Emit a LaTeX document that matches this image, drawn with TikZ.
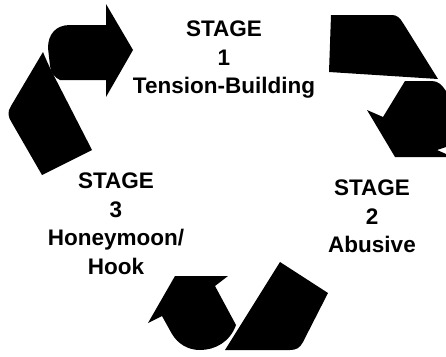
\documentclass[tikz,border=0pt]{standalone}
\usepackage{fontspec}
\setmainfont{Liberation Sans}
\tikzset{
  piece/.style={fill=black},
  stagetext/.style={align=center,anchor=north,inner sep=0pt,font=\fontsize{22.5}{28.5}\selectfont\bfseries}
}
\begin{document}
\begin{tikzpicture}[x=1pt,y=-1pt]
            \useasboundingbox (0,0) rectangle (446,356);
            \fill[piece] (43,52) -- (11,106) .. controls (7,112) and (8,117) .. (12,123) -- (42,175) -- (92,150) -- (52,72) .. controls (48,64) and (45,57) .. cycle;
            \fill[piece] (60,80) -- (106,80) -- (106,97) -- (133,50) -- (106,4) -- (106,25) -- (70,25) .. controls (56,25) and (48,34) .. (48,48) -- (50,66) .. controls (51,73) and (54,77) .. cycle;
            \fill[piece] (331,15) -- (392,15) .. controls (397,15) and (400,18) .. (403,23) -- (438,79) -- (329,72) -- cycle;
            \fill[piece] (395,157) -- (367,110) -- (383,117) -- (405,81) -- (432,81) .. controls (438,81) and (442,85) .. (446,91) -- (446,147) -- (437,150) -- (446,154) -- (446,157) -- cycle;
            \fill[piece] (280,262) -- (328,293) -- (303,342) .. controls (300,348) and (296,350) .. (290,350) -- (225,350) -- cycle;
            \fill[piece] (175,276) -- (228,276) -- (215,286) -- (236,325) .. controls (230,342) and (215,350) .. (200,350) .. controls (188,350) and (178,344) .. (172,334) -- (162,316) -- (148,323) -- cycle;
            \node[stagetext] (stageone) at (224,21) {STAGE\\1\\Tension-Building};
            \node[stagetext] (stagetwo) at (372,180) {STAGE\\2\\Abusive};
            \node[stagetext] (stagethree) at (116,173) {STAGE\\3\\Honeymoon/\\Hook};
\end{tikzpicture}
\end{document}
